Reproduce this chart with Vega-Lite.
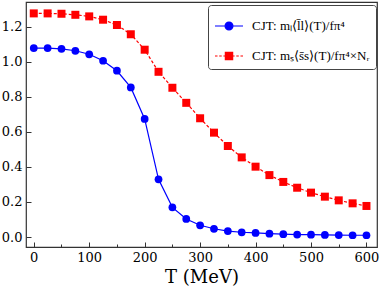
{
  "$schema": "https://vega.github.io/schema/vega-lite/v6.json",
  "width": 351,
  "height": 245,
  "autosize": "none",
  "padding": {"left": 26, "top": 2, "right": 5, "bottom": 39},
  "background": "white",
  "config": {
    "font": "Liberation Serif",
    "view": {"stroke": "#333", "strokeWidth": 1.2},
    "axis": {"domain": false, "grid": false, "labelColor": "black", "titleColor": "black", "tickColor": "#333"},
    "legend": {"labelFont": "Liberation Serif"}
  },
  "data": {"values": [
    {"T": 0, "s": "l", "v": 1.077}, {"T": 25, "s": "l", "v": 1.077}, {"T": 50, "s": "l", "v": 1.073}, {"T": 75, "s": "l", "v": 1.062},
    {"T": 100, "s": "l", "v": 1.042}, {"T": 125, "s": "l", "v": 1.005}, {"T": 150, "s": "l", "v": 0.948}, {"T": 175, "s": "l", "v": 0.853},
    {"T": 200, "s": "l", "v": 0.673}, {"T": 225, "s": "l", "v": 0.329}, {"T": 250, "s": "l", "v": 0.169}, {"T": 275, "s": "l", "v": 0.103},
    {"T": 300, "s": "l", "v": 0.067}, {"T": 325, "s": "l", "v": 0.047}, {"T": 350, "s": "l", "v": 0.034}, {"T": 375, "s": "l", "v": 0.027},
    {"T": 400, "s": "l", "v": 0.023}, {"T": 425, "s": "l", "v": 0.019}, {"T": 450, "s": "l", "v": 0.016}, {"T": 475, "s": "l", "v": 0.014},
    {"T": 500, "s": "l", "v": 0.013}, {"T": 525, "s": "l", "v": 0.012}, {"T": 550, "s": "l", "v": 0.011}, {"T": 575, "s": "l", "v": 0.010},
    {"T": 600, "s": "l", "v": 0.010},
    {"T": 0, "s": "s", "v": 1.275}, {"T": 25, "s": "s", "v": 1.275}, {"T": 50, "s": "s", "v": 1.273}, {"T": 75, "s": "s", "v": 1.267},
    {"T": 100, "s": "s", "v": 1.258}, {"T": 125, "s": "s", "v": 1.239}, {"T": 150, "s": "s", "v": 1.209}, {"T": 175, "s": "s", "v": 1.156},
    {"T": 200, "s": "s", "v": 1.068}, {"T": 225, "s": "s", "v": 0.942}, {"T": 250, "s": "s", "v": 0.851}, {"T": 275, "s": "s", "v": 0.765},
    {"T": 300, "s": "s", "v": 0.677}, {"T": 325, "s": "s", "v": 0.595}, {"T": 350, "s": "s", "v": 0.519}, {"T": 375, "s": "s", "v": 0.454},
    {"T": 400, "s": "s", "v": 0.401}, {"T": 425, "s": "s", "v": 0.353}, {"T": 450, "s": "s", "v": 0.314}, {"T": 475, "s": "s", "v": 0.281},
    {"T": 500, "s": "s", "v": 0.253}, {"T": 525, "s": "s", "v": 0.230}, {"T": 550, "s": "s", "v": 0.209}, {"T": 575, "s": "s", "v": 0.192},
    {"T": 600, "s": "s", "v": 0.177}
  ]},
  "resolve": {"axis": {"x": "independent"}},
  "layer": [
    {
      "transform": [{"filter": "datum.s === 'l'"}],
      "mark": {"type": "line", "strokeWidth": 1.2},
      "encoding": {
        "x": {"field": "T", "type": "quantitative", "scale": {"domain": [-14, 619], "nice": false, "zero": false},
              "axis": {"orient": "bottom", "values": [0, 100, 200, 300, 400, 500, 600], "tickSize": -5, "labelPadding": 9, "labelFont": "DejaVu Serif", "labelFontSize": 13, "title": "T (MeV)", "titleFont": "DejaVu Serif", "titleFontSize": 18, "titleFontWeight": "normal", "titlePadding": 4}},
        "y": {"field": "v", "type": "quantitative", "scale": {"domain": [-0.057, 1.34], "nice": false, "zero": false},
              "axis": {"orient": "left", "values": [0, 0.2, 0.4, 0.6, 0.8, 1.0, 1.2], "format": ".1f", "tickSize": -5, "labelPadding": 9, "labelFont": "DejaVu Serif", "labelFontSize": 13, "title": null}},
        "color": {"field": "s", "type": "nominal", "scale": {"domain": ["l", "s"], "range": ["#0000ff", "#ff0000"]},
          "legend": {
            "orient": "none", "legendX": 182, "legendY": 3, "title": null,
            "fillColor": "white", "strokeColor": "#444", "cornerRadius": 3, "padding": 6,
            "labelFontSize": 13, "labelColor": "black", "rowPadding": 8, "labelOffset": 8,
            "symbolSize": 784,
            "labelExpr": "datum.value === 'l' ? 'CJT: mₗ⟨l̄l⟩(T)/fπ⁴' : 'CJT: mₛ⟨s̄s⟩(T)/fπ⁴×Nᵣ'",
            "encode": {"symbols": {"update": {
              "shape": {"signal": "datum.value === 'l' ? 'M-1,0H-0.28M0.28,0H1M-0.28,0A0.28,0.28 0 1,1 0.28,0A0.28,0.28 0 1,1 -0.28,0Z' : 'M-1,0H-0.82M-0.7,0H-0.52M-0.4,0H-0.28M0.28,0H0.4M0.52,0H0.7M0.82,0H1M-0.26,-0.26H0.26V0.26H-0.26Z'"},
              "fill": {"signal": "datum.value === 'l' ? '#0000ff' : '#ff0000'"},
              "stroke": {"signal": "datum.value === 'l' ? '#0000ff' : '#ff0000'"},
              "strokeWidth": {"value": 1.2},
              "opacity": {"value": 1}
            }}}
          }}
      }
    },
    {
      "transform": [{"filter": "datum.s === 's'"}],
      "mark": {"type": "line", "strokeWidth": 1.2, "strokeDash": [3, 2]},
      "encoding": {
        "x": {"field": "T", "type": "quantitative", "axis": null},
        "y": {"field": "v", "type": "quantitative"},
        "color": {"field": "s", "type": "nominal"}
      }
    },
    {
      "transform": [{"filter": "datum.s === 'l'"}],
      "mark": {"type": "point", "filled": true, "opacity": 1, "size": 60, "shape": "circle"},
      "encoding": {
        "x": {"field": "T", "type": "quantitative", "axis": null},
        "y": {"field": "v", "type": "quantitative"},
        "color": {"field": "s", "type": "nominal"}
      }
    },
    {
      "transform": [{"filter": "datum.s === 's'"}],
      "mark": {"type": "point", "filled": true, "opacity": 1, "size": 64, "shape": "square"},
      "encoding": {
        "x": {"field": "T", "type": "quantitative", "axis": null},
        "y": {"field": "v", "type": "quantitative"},
        "color": {"field": "s", "type": "nominal"}
      }
    },
    {
      "mark": {"type": "point", "opacity": 0},
      "encoding": {
        "x": {"field": "T", "type": "quantitative",
              "axis": {"orient": "bottom", "values": [50, 150, 250, 350, 450, 550], "tickSize": -3, "labels": false, "title": null}},
        "y": {"field": "v", "type": "quantitative"}
      }
    }
  ]
}
